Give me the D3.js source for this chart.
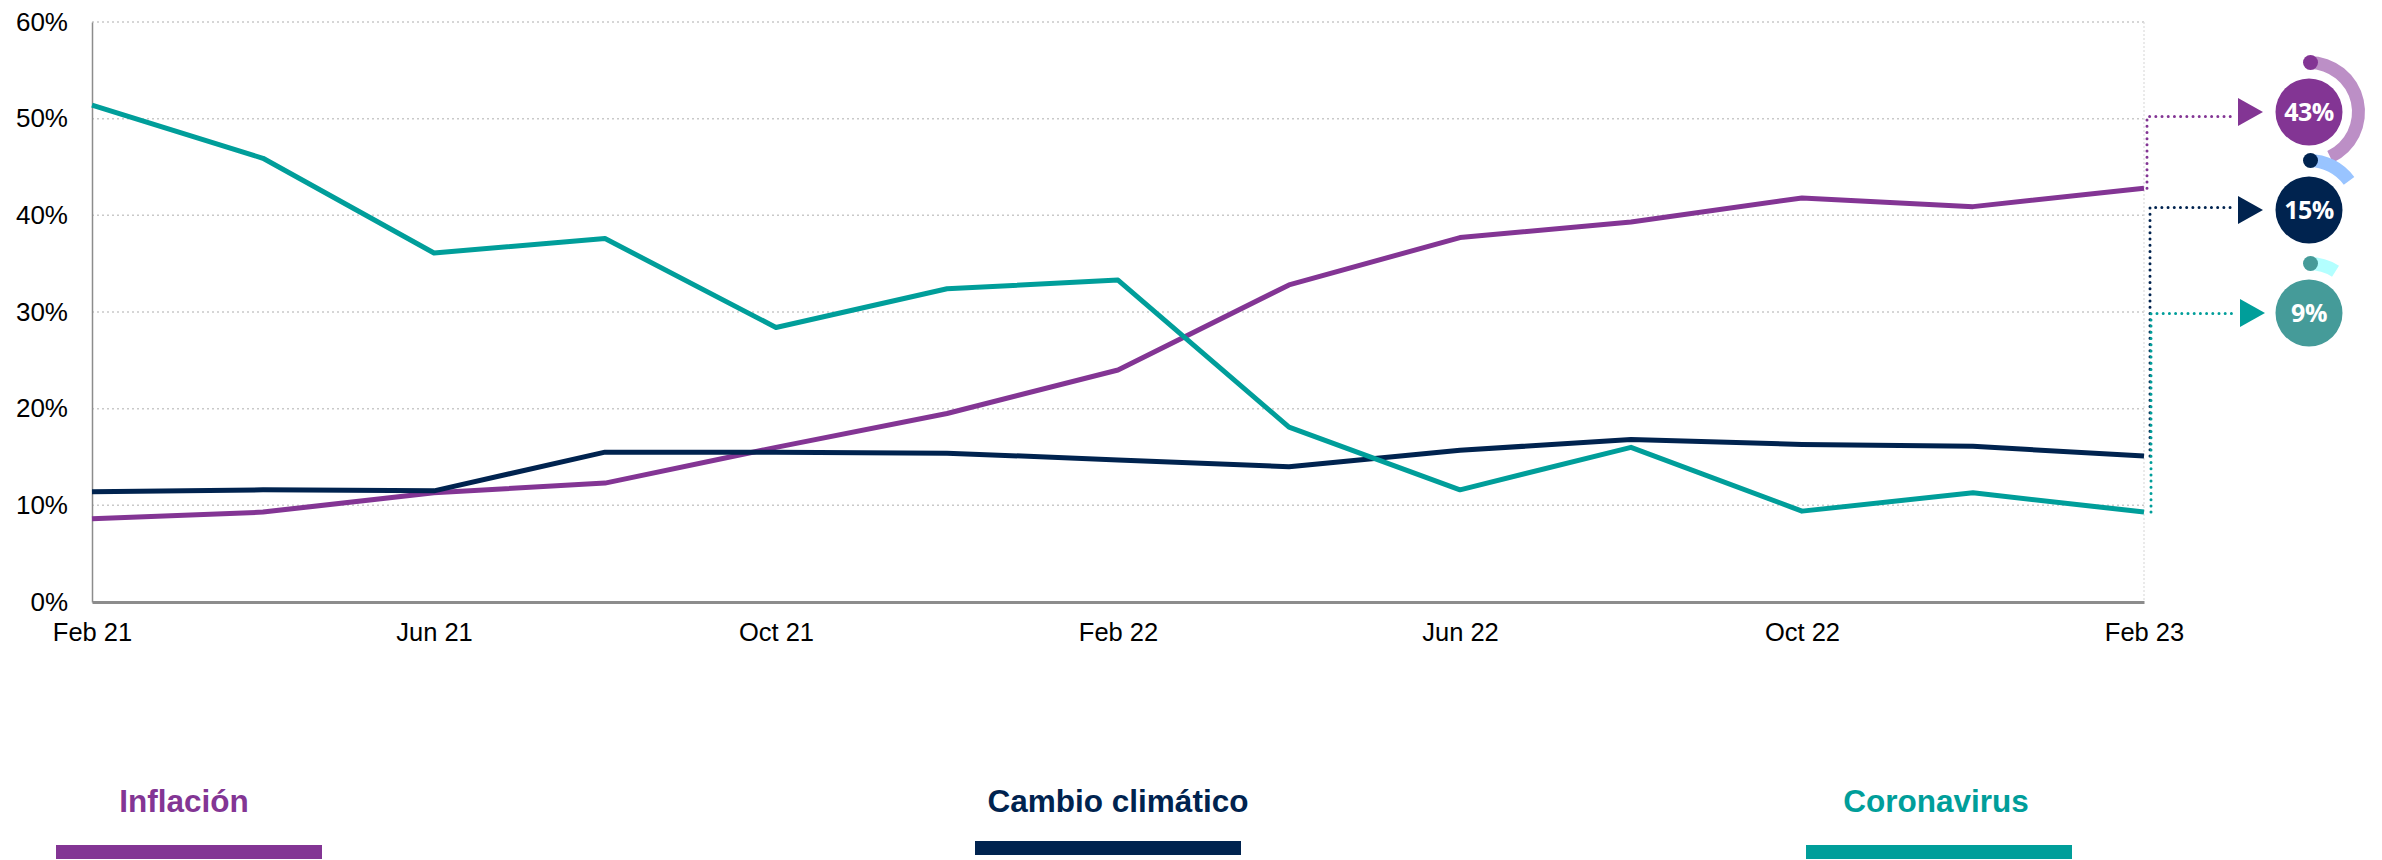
<!DOCTYPE html>
<html>
<head>
<meta charset="utf-8">
<script src="https://cdn.jsdelivr.net/npm/d3@7/dist/d3.min.js"></script>
<style>
  html, body { margin: 0; padding: 0; background: #fff; }
  svg { display: block; }
</style>
</head>
<body>
<svg id="chart" width="2382" height="860"></svg>
<script>
// ---- data ----
const categories = ["Feb 21","Apr 21","Jun 21","Aug 21","Oct 21","Dec 21","Feb 22","Apr 22","Jun 22","Aug 22","Oct 22","Dec 22","Feb 23"];
const inflacion = [8.6, 9.3, 11.3, 12.3, 16.0, 19.5, 24.0, 32.8, 37.7, 39.3, 41.8, 40.9, 42.8];
const cambioClimatico = [11.4, 11.6, 11.5, 15.5, 15.5, 15.4, 14.7, 14.0, 15.7, 16.8, 16.3, 16.1, 15.1];
const coronavirus = [51.4, 45.9, 36.1, 37.6, 28.4, 32.4, 33.3, 18.1, 11.6, 16.0, 9.4, 11.3, 9.3];
const xTickLabels = ["Feb 21","Jun 21","Oct 21","Feb 22","Jun 22","Oct 22","Feb 23"];
const yTickValues = [0, 10, 20, 30, 40, 50, 60];
const seriesNames = ["Inflación", "Cambio climático", "Coronavirus"];
const latestValues = [43, 15, 9];
const latestLabels = ["43%", "15%", "9%"];

// ---- styling / layout ----
const lineColors = ["#833594", "#00234F", "#009E9A"];
const badgeColors = ["#833594", "#00234F", "#459B99"];
const ringColors = ["#BC8FC6", "#99C4FF", "#B3FFFF"];
const series = [inflacion, cambioClimatico, coronavirus];

const svg = d3.select("#chart");
const plotLeft = 92, plotRight = 2144, plotTop = 22, plotBottom = 602;

const x = d3.scalePoint().domain(categories).range([plotLeft, plotRight]);
const y = d3.scaleLinear().domain([0, 60]).range([plotBottom, plotTop]);

// gridlines
svg.append("g").selectAll("line")
  .data(yTickValues.filter(v => v > 0))
  .join("line")
  .attr("x1", plotLeft).attr("x2", plotRight)
  .attr("y1", d => y(d)).attr("y2", d => y(d))
  .attr("stroke", "#c9c9c9").attr("stroke-width", 1.5)
  .attr("stroke-dasharray", "2,3");

// right boundary (light dotted)
svg.append("line")
  .attr("x1", plotRight).attr("x2", plotRight)
  .attr("y1", plotTop).attr("y2", plotBottom)
  .attr("stroke", "#dcdcdc").attr("stroke-width", 1.2)
  .attr("stroke-dasharray", "2,2");

// y axis
const yAxis = d3.axisLeft(y).tickValues(yTickValues).tickSize(0).tickPadding(24)
  .tickFormat(d => d + "%");
const gy = svg.append("g").attr("transform", `translate(${plotLeft},0)`).call(yAxis);
gy.select(".domain").attr("stroke", "#8c8c8c").attr("stroke-width", 1.5);
gy.selectAll("text")
  .attr("font-family", "'Liberation Sans', Arial, sans-serif")
  .attr("font-size", 26).attr("fill", "#000");

// x axis
const xAxis = d3.axisBottom(x).tickValues(xTickLabels).tickSize(0).tickPadding(21);
const gx = svg.append("g").attr("transform", `translate(0,${plotBottom})`).call(xAxis);
gx.select(".domain").attr("stroke", "#8c8c8c").attr("stroke-width", 3);
gx.selectAll("text")
  .attr("font-family", "'Liberation Sans', Arial, sans-serif")
  .attr("font-size", 25.5).attr("fill", "#000");

// lines
const line = d3.line().x((d, i) => x(categories[i])).y(d => y(d));
svg.append("g").selectAll("path")
  .data(series)
  .join("path")
  .attr("d", d => line(d))
  .attr("fill", "none")
  .attr("stroke", (d, i) => lineColors[i])
  .attr("stroke-width", 5)
  .attr("stroke-linejoin", "round");

// connectors + badges
const badgeCx = 2309;
const badgeCy = [112, 210, 313];
const connectorY = [116.5, 207.5, 313.5];
const connectorX = [2147, 2150, 2151];
const arrowLeft = [2238, 2238, 2240];

series.forEach((s, i) => {
  const yEnd = y(s[s.length - 1]);
  svg.append("path")
    .attr("d", `M${connectorX[i]},${yEnd}V${connectorY[i]}H${arrowLeft[i] - 4}`)
    .attr("fill", "none")
    .attr("stroke", lineColors[i])
    .attr("stroke-width", 3)
    .attr("stroke-linecap", "round")
    .attr("stroke-dasharray", "0,6.2");
  const ay = badgeCy[i];
  svg.append("path")
    .attr("d", `M${arrowLeft[i]},${ay - 14}L${arrowLeft[i] + 25},${ay}L${arrowLeft[i]},${ay + 14}Z`)
    .attr("fill", i === 2 ? "#009E9A" : lineColors[i]);

  const g = svg.append("g").attr("transform", `translate(${badgeCx},${badgeCy[i]})`);
  const arc = d3.arc().innerRadius(43).outerRadius(56)
    .startAngle(0).endAngle(latestValues[i] / 100 * 2 * Math.PI);
  g.append("path").attr("d", arc()).attr("fill", ringColors[i]);
  g.append("circle").attr("cx", 1.5).attr("cy", -49.5).attr("r", 7.5).attr("fill", badgeColors[i]);
  g.append("circle").attr("r", 33.5).attr("fill", badgeColors[i]);
  g.append("text")
    .attr("text-anchor", "middle").attr("dy", "0.36em")
    .attr("font-family", "'Open Sans', 'Noto Sans', sans-serif")
    .attr("font-weight", 700).attr("font-size", 25)
    .attr("letter-spacing", -0.5)
    .attr("fill", "#fff")
    .text(latestLabels[i]);
});

// legend
const legendTextX = [184, 1118, 1936];
const legendBarX = [56, 975, 1806];
const legendBarY = [845, 841, 845];
const legendBarW = 266;
const legend = svg.append("g");
seriesNames.forEach((name, i) => {
  legend.append("text")
    .attr("x", legendTextX[i]).attr("y", 812)
    .attr("text-anchor", "middle")
    .attr("font-family", "'Liberation Sans', Arial, sans-serif")
    .attr("font-weight", 700).attr("font-size", 31.5)
    .attr("fill", lineColors[i])
    .text(name);
  legend.append("rect")
    .attr("x", legendBarX[i]).attr("y", legendBarY[i])
    .attr("width", legendBarW).attr("height", 14)
    .attr("fill", lineColors[i]);
});
</script>
</body>
</html>
